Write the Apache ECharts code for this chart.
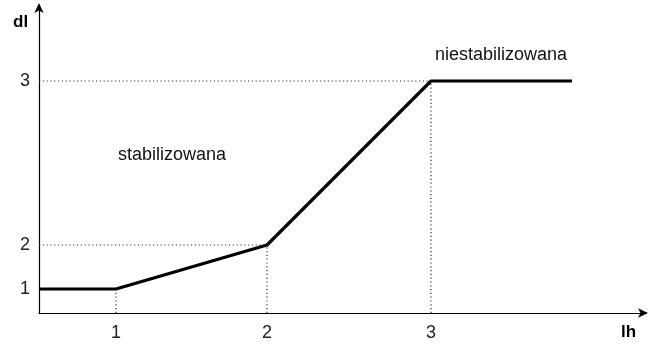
<!DOCTYPE html>
<html>
<head>
<meta charset="utf-8">
<script src="https://cdn.jsdelivr.net/npm/echarts@6/dist/echarts.min.js"></script>
<style>html,body{margin:0;padding:0;background:#fff}#c{width:650px;height:360px}</style>
</head>
<body>
<div id="c"></div>
<script>
// Schematic chart: breakpoints positions on the (non-uniform) lh / dl axes
const lhLabels = ['1', '2', '3'];
const lhPos = [0.77, 2.28, 3.92];     // positions of lh = 1, 2, 3 on the drawn axis
const dlLabels = ['1', '2', '3'];
const dlPos = [0.24, 0.68, 2.32];     // positions of dl = 1, 2, 3 on the drawn axis
const lineStartX = 0;
const lineEndX = 5.33;
const regionLabels = ['stabilizowana', 'niestabilizowana'];

const mainLine = [[lineStartX, dlPos[0]]]
  .concat(lhPos.map((x, i) => [x, dlPos[i]]))
  .concat([[lineEndX, dlPos[2]]]);

const guideSeries = [];
lhPos.forEach((x, i) => {
  guideSeries.push({ type: 'line', data: [[x, 0], [x, dlPos[i]]] });
  if (i > 0) guideSeries.push({ type: 'line', data: [[0, dlPos[i]], [x, dlPos[i]]] });
});

const chart = echarts.init(document.getElementById('c'), null, { renderer: 'canvas' });
const font = '"Liberation Sans", Arial, sans-serif';
chart.setOption({
  animation: false,
  grid: { left: 39, right: 5, top: 6, bottom: 47 },
  xAxis: {
    type: 'value', min: 0, max: 6.06,
    splitLine: { show: false },
    axisTick: { show: false },
    axisLine: { lineStyle: { color: '#000', width: 1.2 }, symbol: ['none', 'arrow'], symbolSize: [7, 10], symbolOffset: [0, 3] },
    axisLabel: {
      customValues: lhPos, color: '#222', fontSize: 18, fontFamily: font, margin: 11,
      formatter: v => lhLabels[lhPos.indexOf(v)] ?? ''
    }
  },
  yAxis: {
    type: 'value', min: 0, max: 3.07,
    splitLine: { show: false },
    axisTick: { show: false },
    axisLine: { lineStyle: { color: '#000', width: 1.2 }, symbol: ['none', 'arrow'], symbolSize: [7, 10], symbolOffset: [0, 3] },
    axisLabel: {
      customValues: dlPos, color: '#222', fontSize: 18, fontFamily: font, margin: 9,
      verticalAlign: 'middle', padding: [0, 0, 8, 0],
      formatter: v => dlLabels[dlPos.indexOf(v)] ?? ''
    }
  },
  series: [
    ...guideSeries.map(s => Object.assign(s, {
      symbol: 'none', silent: true,
      lineStyle: { color: '#333', width: 1.2, type: [1.2, 2.6] }
    })),
    {
      type: 'line', data: mainLine, symbol: 'none', z: 5,
      lineStyle: { color: '#000', width: 3.2 }
    }
  ],
  graphic: [
    { type: 'text', left: 13, top: 14, style: { text: 'dl', font: 'bold 17px ' + font, fill: '#000' } },
    { type: 'text', left: 621, top: 324, style: { text: 'lh', font: 'bold 17px ' + font, fill: '#000' } },
    { type: 'text', left: 118, top: 146, style: { text: regionLabels[0], font: '18px ' + font, fill: '#111' } },
    { type: 'text', left: 435, top: 46, style: { text: regionLabels[1], font: '18px ' + font, fill: '#111' } }
  ]
});
</script>
</body>
</html>
